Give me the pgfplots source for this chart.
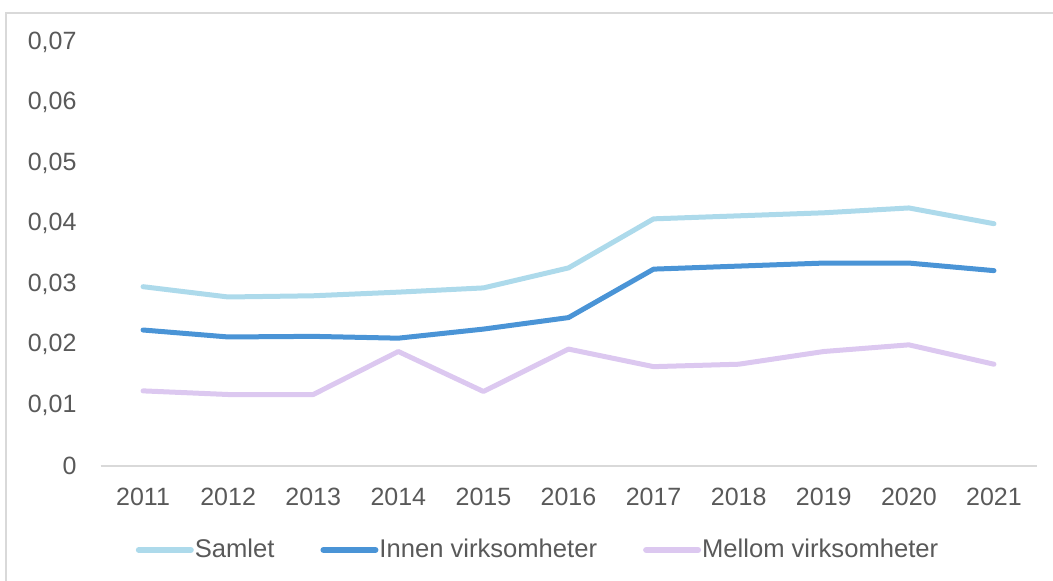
\documentclass[border=0pt]{standalone}
\usepackage{pgfplots}
\pgfplotsset{compat=1.18}
\usepackage{fontspec}
\setmainfont{Liberation Sans}
\definecolor{samlet}{HTML}{ADDAEB}
\definecolor{innen}{HTML}{4A94D6}
\definecolor{mellom}{HTML}{DCC8F0}
\definecolor{txt}{HTML}{595959}
\definecolor{gridc}{HTML}{D9D9D9}
\begin{document}
\begin{tikzpicture}
\begin{axis}[
  scale only axis, width=468bp, height=212bp,
  xmin=2010.5, xmax=2021.5, ymin=0, ymax=0.07,
  scaled y ticks=false,
  xtick={2011,2012,2013,2014,2015,2016,2017,2018,2019,2020,2021},
  xticklabels={2011,2012,2013,2014,2015,2016,2017,2018,2019,2020,2021},
  ytick={0,0.01,0.02,0.03,0.04,0.05,0.06,0.07},
  yticklabels={0,{0,01},{0,02},{0,03},{0,04},{0,05},{0,06},{0,07}},
  axis line style={draw=none},
  tick style={draw=none},
  tick label style={font=\fontsize{12.5bp}{14bp}\selectfont, text=txt},
  xticklabel style={anchor=base, yshift=-20bp},
  yticklabel style={anchor=east, xshift=-8.5bp},
  legend style={at={(0.4685,-0.198)}, anchor=center, draw=none, fill=none,
    legend columns=-1, font=\fontsize{12.8bp}{14bp}\selectfont, text=txt,
    /tikz/every even column/.append style={column sep=21bp},
    /tikz/every odd column/.append style={column sep=-1.5bp}},
  legend image code/.code={\draw[#1, line width=3bp, line cap=round] (0bp,0bp) -- (26bp,0bp);},
  every axis plot/.append style={line width=2.5bp, line cap=round, line join=round, mark=none},
  clip=false,
]
\draw[gridc, line width=1bp] (axis cs:2010.5,0) -- (axis cs:2021.5,0);
\addplot[samlet] coordinates {
(2011,0.0296) (2012,0.0279) (2013,0.0281) (2014,0.0287) (2015,0.0294)
(2016,0.0327) (2017,0.0408) (2018,0.0413) (2019,0.0418) (2020,0.0426) (2021,0.0400)};
\addplot[innen] coordinates {
(2011,0.02245) (2012,0.0213) (2013,0.0214) (2014,0.0211) (2015,0.0226)
(2016,0.0245) (2017,0.0325) (2018,0.0330) (2019,0.0335) (2020,0.0335) (2021,0.03225)};
\addplot[mellom] coordinates {
(2011,0.0124) (2012,0.0118) (2013,0.0118) (2014,0.0189) (2015,0.0123)
(2016,0.0193) (2017,0.0164) (2018,0.0168) (2019,0.0189) (2020,0.0200) (2021,0.0168)};
\legend{Samlet,Innen virksomheter,Mellom virksomheter}
\end{axis}
\pgfresetboundingbox
\path[use as bounding box] ([shift={(-50.25bp,-57.5bp)}]current axis.south west) rectangle ([shift={(8.25bp,21bp)}]current axis.north east);
\draw[gridc, line width=1bp] ([shift={(-47bp,-57.5bp)}]current axis.south west) -- ([shift={(-47bp,14.5bp)}]current axis.north west) -- ([shift={(8.25bp,14.5bp)}]current axis.north east);
\end{tikzpicture}
\end{document}
